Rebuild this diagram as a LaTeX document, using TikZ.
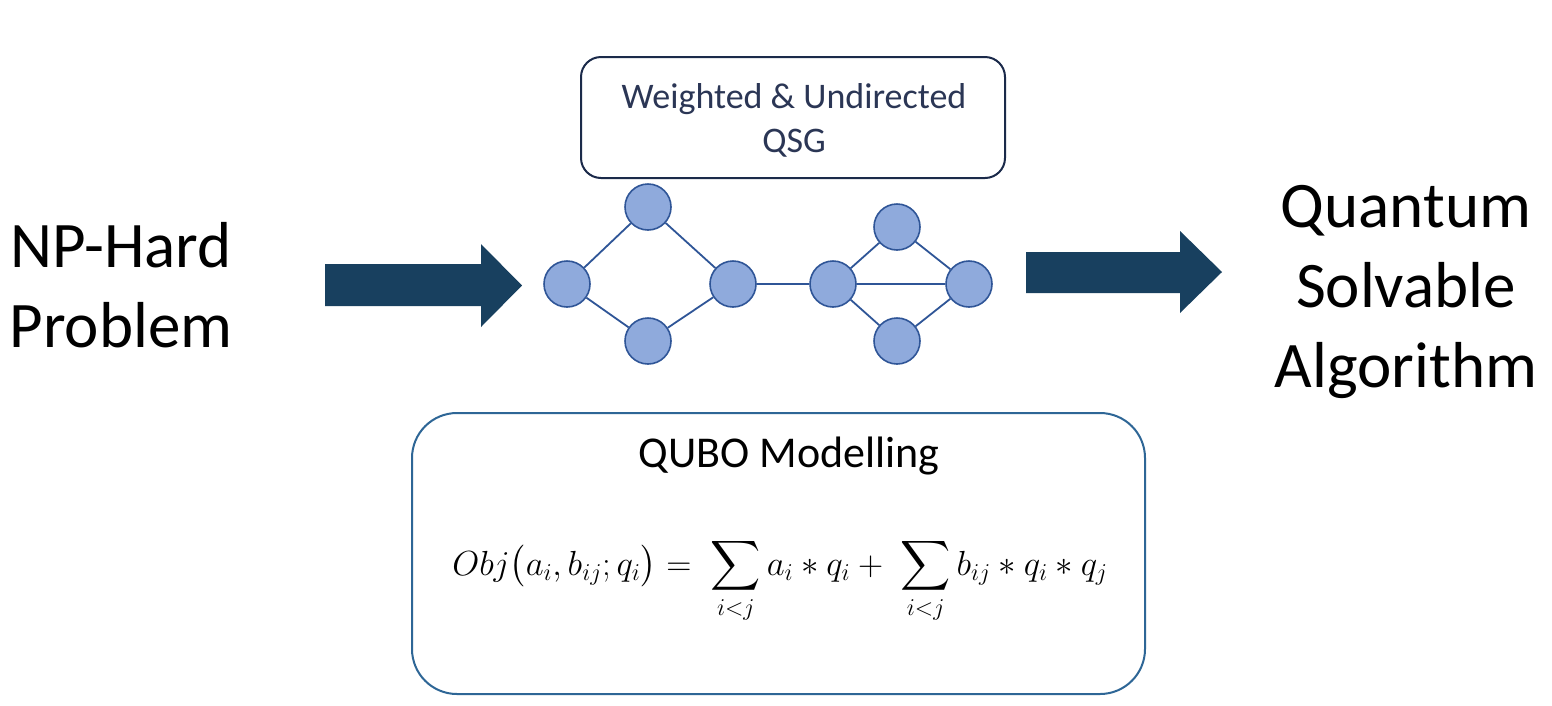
\documentclass[tikz,border=0pt]{standalone}
\usepackage[no-math]{fontspec}
\setmainfont{Carlito}
\usepackage{amsmath}
\definecolor{arrowblue}{HTML}{18405F}
\definecolor{nodefill}{HTML}{8FAADC}
\definecolor{nodeline}{HTML}{2F5597}
\definecolor{topline}{HTML}{1B2A4A}
\definecolor{toptext}{HTML}{2B3655}
\definecolor{botline}{HTML}{2E6696}
\tikzset{
  bigtext/.style={font=\fontsize{65}{80}\selectfont, text=black, inner sep=0pt, anchor=base},
  qsgtext/.style={font=\fontsize{36}{44}\selectfont, text=toptext, inner sep=0pt, anchor=base},
  qubotext/.style={font=\fontsize{44}{54}\selectfont, text=black, inner sep=0pt, anchor=base},
  vertex/.style={circle, draw=nodeline, fill=nodefill, line width=1.6pt, minimum size=46pt, inner sep=0pt},
  edge/.style={draw=nodeline, line width=1.8pt},
  blockarrow/.style={fill=arrowblue, draw=none},
  topbox/.style={draw=topline, line width=2pt, rounded corners=20pt},
  botbox/.style={draw=botline, line width=2pt, rounded corners=45pt}
}
\begin{document}
\begin{tikzpicture}[x=1pt,y=-1pt]
\fill[white] (0,0) rectangle (1552,705);
\path[use as bounding box] (0,0) rectangle (1552,705);

% left text
\node[bigtext] (np1) at (121,267) {NP-Hard};
\node[bigtext] (np2) at (121,347) {Problem};

% right text
\node[bigtext] (qs1) at (1406,227) {Quantum};
\node[bigtext] (qs2) at (1406,307) {Solvable};
\node[bigtext] (qs3) at (1406,387) {Algorithm};

% block arrows
\fill[blockarrow] (325,264) -- (481,264) -- (481,244) -- (522,285.5) -- (481,327) -- (481,306) -- (325,306) -- cycle;
\fill[blockarrow] (1026,252) -- (1180,252) -- (1180,231) -- (1222,272) -- (1180,313) -- (1180,293) -- (1026,293) -- cycle;

% top box
\draw[topbox] (581,57) rectangle (1005,178);
\node[qsgtext] (w1) at (794,108) {Weighted \& Undirected};
\node[qsgtext] (w2) at (794,152) {QSG};

% graph
\node[vertex] (L)  at (567,284) {};
\node[vertex] (T)  at (648,207) {};
\node[vertex] (B)  at (648,341) {};
\node[vertex] (R)  at (733,284) {};
\node[vertex] (RL) at (833,284) {};
\node[vertex] (RT) at (897,227) {};
\node[vertex] (RB) at (897,341) {};
\node[vertex] (RR) at (969,284) {};
\draw[edge] (L) -- (T);
\draw[edge] (T) -- (R);
\draw[edge] (L) -- (B);
\draw[edge] (B) -- (R);
\draw[edge] (R) -- (RL);
\draw[edge] (RL) -- (RT);
\draw[edge] (RT) -- (RR);
\draw[edge] (RL) -- (RR);
\draw[edge] (RL) -- (RB);
\draw[edge] (RB) -- (RR);

% bottom box
\draw[botbox] (412,413) rectangle (1145,694);
\node[qubotext] (qubo) at (789,467) {QUBO Modelling};
\node[inner sep=0pt, anchor=base, scale=1.4, font=\fontsize{24}{30}\selectfont] (obj) at (780,575)
  {$\displaystyle Obj\big(a_i, b_{ij}; q_i\big) = \;\sum_{i<j} a_i * q_i + \;\sum_{i<j} b_{ij} * q_i * q_j$};
\end{tikzpicture}
\end{document}
